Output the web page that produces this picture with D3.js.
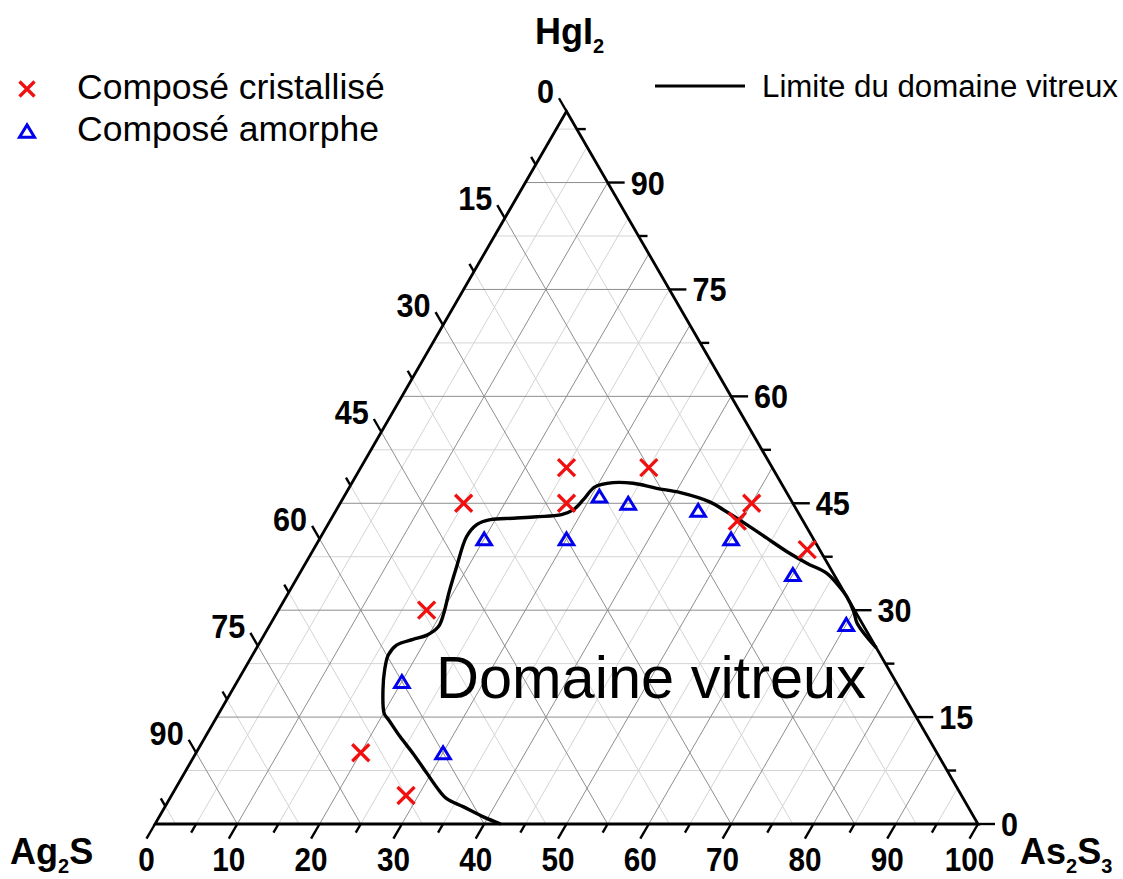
<!DOCTYPE html>
<html><head><meta charset="utf-8">
<script src="https://cdn.jsdelivr.net/npm/d3@7"></script>
<style>body{margin:0;background:#fff} svg{display:block}</style>
</head><body>
<svg id="c" width="1123" height="879"></svg>
<script>
// ---------- data (mol %) : [Ag2S, As2S3, HgI2] ----------
const cristallise = [
  [40, 15, 45], [25, 25, 50], [27.5, 27.5, 45], [15, 35, 50], [5, 50, 45],
  [8, 49.5, 42.5], [1.5, 60, 38.5], [52, 18, 30], [70, 20, 10], [67.5, 28.5, 4]
];
const amorphe = [
  [60, 20, 20], [60, 30, 10], [40, 20, 40], [30, 30, 40], [23, 31, 46],
  [20, 35, 45], [12, 44, 44], [10, 50, 40], [5, 60, 35], [2, 70, 28]
];
// glass-forming domain boundary (HgI2 %, As2S3 %)
const limiteHgI2 = [0, 1.0, 2.4, 3.6, 5.2, 7.1, 9.9, 12.3, 14.6, 15.5, 18.8, 21.6, 23.7, 25.1, 25.9, 26.5, 27.7,
  29.6, 32.4, 36.1, 40.3, 42.0, 42.7, 42.9, 43.1, 43.4, 44.1, 45.5, 47.3, 47.9, 47.8, 47.1, 46.5, 45.2,
  44.1, 42.0, 40.1, 38.2, 36.6, 35.2, 33.8, 31.9, 29.8, 28.2, 26.3, 24.7];
const limiteAs2S3 = [42.0, 39.4, 36.3, 33.6, 31.6, 29.5, 26.4, 23.6, 21.1, 20.1, 18.3, 17.1, 16.5, 16.8, 18.4, 19.8, 20.6,
  20.3, 19.5, 18.6, 17.7, 18.1, 19.4, 22.1, 24.8, 27.7, 28.8, 29.3, 29.8, 31.7, 34.2, 37.4, 40.6, 44.8,
  47.0, 50.9, 54.3, 57.7, 60.9, 64.0, 65.9, 68.1, 70.0, 71.2, 73.3, 75.3];

const bottomTicks = d3.range(0, 100.01, 5);      // As2S3
const bottomLabels = [0, 10, 20, 30, 40, 50, 60, 70, 80, 90, 100];
const leftTicks = d3.range(0, 99, 7.5);          // Ag2S
const leftLabels = [0, 15, 30, 45, 60, 75, 90];
const rightTicks = d3.range(0, 99, 7.5);         // HgI2
const rightLabels = [0, 15, 30, 45, 60, 75, 90];

// ---------- layout ----------
const svg = d3.select("#c");
const X0 = 155, X1 = 978, Y0 = 824;
const H = (X1 - X0) * Math.sqrt(3) / 2;
const sx = d3.scaleLinear().domain([0, 100]).range([X0, X1]);
const sy = d3.scaleLinear().domain([0, 100]).range([Y0, Y0 - H]);
function pt(ag, as, hg) {
  const t = ag + as + hg; as = as * 100 / t; hg = hg * 100 / t;
  return [sx(as + hg / 2), sy(hg)];
}
const line = d3.line();
const FONT = "'Liberation Sans', Arial, Helvetica, sans-serif";

// ---------- grid ----------
const gGrid = svg.append("g");
function gridLines(major) {
  const segs = [];
  rightTicks.filter(h => h > 0).forEach(h => {   // constant HgI2
    if ((Math.abs(h % 15) < 1e-6) === major) segs.push([pt(100 - h, 0, h), pt(0, 100 - h, h)]);
  });
  leftTicks.filter(a => a > 0).forEach(a => {    // constant Ag2S
    if ((Math.abs(a % 15) < 1e-6) === major) segs.push([pt(a, 0, 100 - a), pt(a, 100 - a, 0)]);
  });
  bottomTicks.filter(s => s > 0 && s < 100).forEach(s => {  // constant As2S3
    if ((Math.abs(s % 10) < 1e-6) === major) segs.push([pt(100 - s, s, 0), pt(0, s, 100 - s)]);
  });
  return segs;
}
gGrid.selectAll("path.minor").data(gridLines(false)).join("path")
  .attr("d", d => line(d)).attr("stroke", "#d4d4d4").attr("stroke-width", 1).attr("fill", "none");
gGrid.selectAll("path.major").data(gridLines(true)).join("path")
  .attr("d", d => line(d)).attr("stroke", "#8e8e8e").attr("stroke-width", 1).attr("fill", "none");

// ---------- triangle frame ----------
svg.append("path")
  .attr("d", line([pt(100, 0, 0), pt(0, 100, 0), pt(0, 0, 100)]) + "Z")
  .attr("fill", "none").attr("stroke", "#000").attr("stroke-width", 2.8).attr("stroke-linejoin", "miter");

// ---------- ticks ----------
const gT = svg.append("g").attr("stroke", "#000").attr("stroke-width", 2.4);
const c60 = 0.5, s60 = Math.sqrt(3) / 2;
bottomTicks.forEach(s => {
  const p = pt(100 - s, s, 0), L = (s % 10 === 0) ? 17 : 10;
  gT.append("line").attr("x1", p[0]).attr("y1", p[1]).attr("x2", p[0] - c60 * L).attr("y2", p[1] + s60 * L);
});
leftTicks.forEach(a => {
  const p = pt(a, 0, 100 - a), L = (a % 15 === 0) ? 15 : 9;
  gT.append("line").attr("x1", p[0]).attr("y1", p[1]).attr("x2", p[0] - c60 * L).attr("y2", p[1] - s60 * L);
});
rightTicks.forEach(h => {
  const p = pt(0, 100 - h, h), L = (h % 15 === 0) ? 17 : 9;
  gT.append("line").attr("x1", p[0]).attr("y1", p[1]).attr("x2", p[0] + L).attr("y2", p[1]);
});

// ---------- tick labels (bold, slightly condensed) ----------
const gL = svg.append("g").attr("font-family", FONT).attr("font-weight", "bold").attr("fill", "#000");
function lab(x, y, anchor, txt, fs) {
  gL.append("text").attr("transform", `translate(${x},${y}) scale(0.9,1)`)
    .attr("font-size", fs).attr("text-anchor", anchor).text(txt);
}
bottomLabels.forEach(s => {
  const p = pt(100 - s, s, 0);
  lab(p[0] - c60 * 17, p[1] + 47, "middle", s, 33);
});
leftLabels.forEach(a => {
  const p = pt(a, 0, 100 - a);
  lab(p[0] - c60 * 15 - 5, p[1] - s60 * 15 + 5, "end", a, 34);
});
rightLabels.forEach(h => {
  const p = pt(0, 100 - h, h);
  lab(p[0] + 17 + 6, p[1] + 12, "start", h, 34);
});

// ---------- vertex labels ----------
const gV = svg.append("g").attr("font-family", FONT).attr("font-weight", "bold").attr("fill", "#000");
function chem(x, y, parts) {
  const t = gV.append("text").attr("x", x).attr("y", y).attr("font-size", 36);
  let sub = false;
  parts.forEach(([s, isSub]) => {
    const ts = t.append("tspan").text(s);
    if (isSub && !sub) ts.attr("font-size", 20).attr("dy", 9);
    else if (!isSub && sub) ts.attr("dy", -9);
    sub = isSub;
  });
}
chem(535, 44, [["HgI", false], ["2", true]]);
chem(10, 864, [["Ag", false], ["2", true], ["S", false]]);
chem(1020, 864, [["As", false], ["2", true], ["S", false], ["3", true]]);

// ---------- glass domain boundary ----------
const boundary = limiteHgI2.map((h, i) => pt(100 - h - limiteAs2S3[i], limiteAs2S3[i], h));
svg.append("path").attr("d", d3.line().curve(d3.curveCatmullRom.alpha(0.5))(boundary))
  .attr("fill", "none").attr("stroke", "#000").attr("stroke-width", 3.4).attr("stroke-linejoin", "round");

// ---------- markers ----------
const crossPath = (r) => `M${-r},${-r}L${r},${r}M${-r},${r}L${r},${-r}`;
const triPath = (w) => { const h = w * 0.82; return `M0,${-h / 2}L${w / 2},${h / 2}L${-w / 2},${h / 2}Z`; };
svg.append("g").selectAll("path").data(cristallise).join("path")
  .attr("transform", d => { const p = pt(...d); return `translate(${p[0]},${p[1]})`; })
  .attr("d", crossPath(8.5)).attr("stroke", "#f01010").attr("stroke-width", 3.3).attr("fill", "none");
svg.append("g").selectAll("path").data(amorphe).join("path")
  .attr("transform", d => { const p = pt(...d); return `translate(${p[0]},${p[1]})`; })
  .attr("d", triPath(14.5)).attr("stroke", "#0000ee").attr("stroke-width", 3).attr("fill", "none").attr("stroke-linejoin", "miter");

// ---------- in-plot label ----------
svg.append("text").attr("x", 436).attr("y", 698).attr("font-family", FONT).attr("font-size", 59.5)
  .attr("fill", "#000").text("Domaine vitreux");

// ---------- legends ----------
const gLeg = svg.append("g").attr("font-family", FONT).attr("fill", "#000");
gLeg.append("path").attr("transform", "translate(27,89)").attr("d", crossPath(7.5))
  .attr("stroke", "#f01010").attr("stroke-width", 3.3).attr("fill", "none");
gLeg.append("text").attr("x", 77).attr("y", 99).attr("font-size", 35.5).text("Composé cristallisé");
gLeg.append("path").attr("transform", "translate(27,131)").attr("d", triPath(15))
  .attr("stroke", "#0000ee").attr("stroke-width", 3).attr("fill", "none");
gLeg.append("text").attr("x", 77).attr("y", 141).attr("font-size", 35.5).text("Composé amorphe");
gLeg.append("line").attr("x1", 655).attr("x2", 745).attr("y1", 86).attr("y2", 86)
  .attr("stroke", "#000").attr("stroke-width", 3);
gLeg.append("text").attr("x", 762).attr("y", 97).attr("font-size", 31)
  .attr("textLength", 356).attr("lengthAdjust", "spacingAndGlyphs").text("Limite du domaine vitreux");
</script>
</body></html>
